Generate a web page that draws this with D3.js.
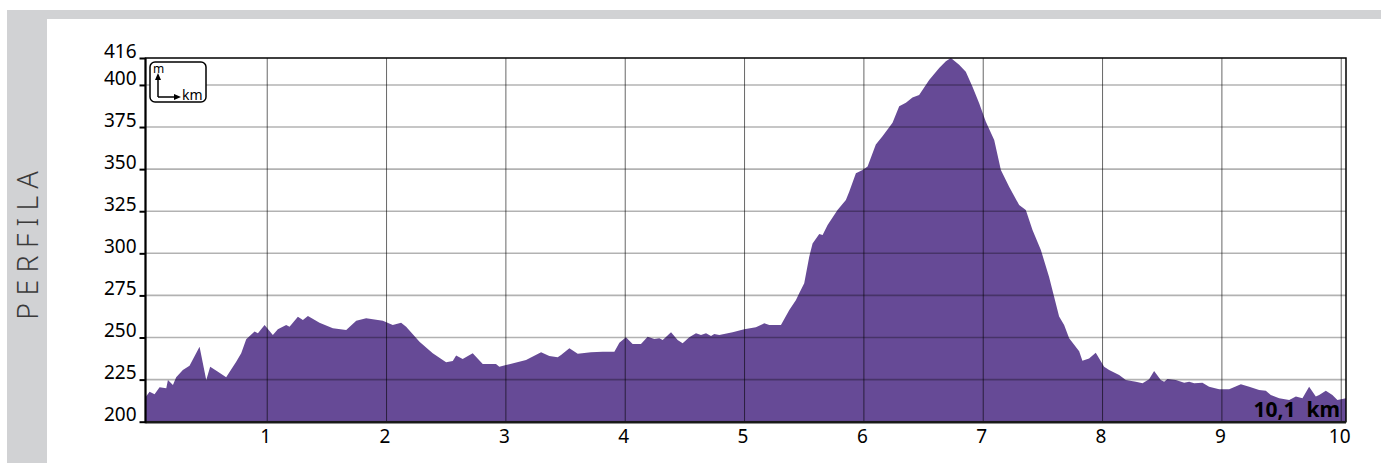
<!DOCTYPE html>
<html>
<head>
<meta charset="utf-8">
<script src="https://cdn.jsdelivr.net/npm/d3@7"></script>
<style>
	body { margin: 0; background: #fff; }
	svg { display: block; font-family: 'Noto Sans', sans-serif; }
</style>
</head>
<body>
<div id="chart"></div>
<script>
// elevation profile (km, m)
const distanceKm = [-0.02, 0.014, 0.056, 0.098, 0.154, 0.168, 0.210, 0.237, 0.293, 0.349, 0.433, 0.489, 0.522, 0.587, 0.656, 0.740, 0.782, 0.824, 0.894, 0.922, 0.978, 1.047, 1.089, 1.159, 1.187, 1.257, 1.299, 1.341, 1.438, 1.550, 1.662, 1.746, 1.829, 1.969, 2.052, 2.122, 2.164, 2.276, 2.387, 2.499, 2.555, 2.583, 2.638, 2.722, 2.806, 2.917, 2.945, 3.001, 3.029, 3.169, 3.295, 3.364, 3.434, 3.462, 3.532, 3.602, 3.713, 3.811, 3.909, 3.951, 4.006, 4.062, 4.132, 4.188, 4.244, 4.286, 4.314, 4.384, 4.439, 4.481, 4.537, 4.593, 4.635, 4.677, 4.719, 4.746, 4.788, 4.900, 4.997, 5.095, 5.165, 5.207, 5.305, 5.375, 5.431, 5.458, 5.500, 5.542, 5.570, 5.626, 5.654, 5.696, 5.779, 5.849, 5.877, 5.933, 5.989, 6.031, 6.100, 6.156, 6.240, 6.296, 6.352, 6.407, 6.463, 6.547, 6.631, 6.687, 6.729, 6.798, 6.854, 6.910, 6.966, 7.022, 7.092, 7.148, 7.217, 7.301, 7.357, 7.413, 7.483, 7.552, 7.636, 7.678, 7.720, 7.804, 7.831, 7.887, 7.943, 8.013, 8.055, 8.139, 8.195, 8.279, 8.335, 8.390, 8.432, 8.488, 8.516, 8.544, 8.614, 8.684, 8.726, 8.768, 8.837, 8.893, 8.977, 9.061, 9.159, 9.229, 9.312, 9.368, 9.410, 9.480, 9.564, 9.620, 9.675, 9.731, 9.787, 9.815, 9.871, 9.926, 9.968, 10.04];

const elevationM = [214.5, 217.8, 216.3, 220.4, 219.8, 224.8, 221.8, 226.4, 230.7, 233.3, 244.5, 224.8, 232.7, 229.7, 226.4, 235.6, 240.6, 248.9, 253.5, 252.5, 257.4, 251.5, 254.9, 257.4, 256.4, 262.4, 260.4, 262.8, 258.8, 255.5, 254.5, 260, 261.4, 260, 257.4, 258.8, 256.4, 247.5, 240.6, 235.3, 236.1, 239.3, 237.3, 240.6, 234.3, 234.3, 232.7, 233.7, 234.1, 236.6, 241.2, 239, 238.3, 239.6, 243.6, 240.3, 241.2, 241.6, 241.6, 246.9, 250.1, 246.2, 246.2, 250.5, 249.1, 249.5, 248.5, 253.1, 248.5, 246.6, 250.1, 252.5, 251.5, 252.5, 250.9, 252.1, 251.5, 253.1, 254.9, 256.1, 258.4, 257.4, 257.4, 266.3, 272.3, 276.3, 282.2, 298, 305.9, 311.5, 310.9, 316.8, 325.7, 331.6, 336.6, 347.5, 349.5, 351.5, 364.6, 369.5, 377.5, 387.4, 389.4, 392.6, 394.1, 403, 410, 414, 416, 412, 407.9, 399, 389.1, 378.2, 367.3, 349.5, 339.6, 328.7, 325.8, 313.9, 302, 285.9, 262.5, 257.4, 249.5, 241.8, 236.2, 237.6, 241, 232.7, 230.7, 227.7, 224.8, 223.8, 222.8, 225.2, 230.1, 224.8, 223.8, 225.4, 224.8, 223.2, 223.8, 222.8, 223.2, 220.8, 219.2, 219.2, 222.2, 220.8, 218.8, 218.4, 215.9, 213.9, 212.9, 214.9, 213.9, 220.8, 214.9, 215.9, 218.4, 215.9, 212.9, 213.9];

const xTicks = [1, 2, 3, 4, 5, 6, 7, 8, 9, 10];
const yTicks = [200, 225, 250, 275, 300, 325, 350, 375, 400, 416];
const totalLabel = '10,1  km';
const sideLabel = 'PERFILA';

const width = 1381, height = 463;
const fillColor = '#664a96';

const svg = d3.select('#chart').append('svg')
	.attr('width', width)
	.attr('height', height);

// page frame: grey band on top and left
svg.append('rect').attr('x', 7).attr('y', 10).attr('width', width - 7).attr('height', height - 10).attr('fill', '#d1d2d4');
svg.append('rect').attr('x', 47).attr('y', 19).attr('width', width - 47).attr('height', height - 19).attr('fill', '#fff');

svg.append('text')
	.attr('transform', 'translate(38, 242) rotate(-90)')
	.attr('text-anchor', 'middle')
	.attr('font-size', 29)
	.attr('font-weight', 300)
	.attr('letter-spacing', 7)
	.attr('fill', '#3a3a3a')
	.text(sideLabel);

// scales
const x = d3.scaleLinear().domain([-0.02, 10.04]).range([145.5, 1346]);
const y = d3.scaleLinear().domain([200, 416]).range([421.7, 58]);

const data = d3.zip(distanceKm, elevationM);

const area = d3.area()
	.x(d => x(d[0]))
	.y0(y(200))
	.y1(d => y(d[1]));

svg.append('path')
	.datum(data)
	.attr('fill', fillColor)
	.attr('d', area);

// grid drawn over the fill
svg.append('g')
	.selectAll('line')
	.data(yTicks.filter(v => v > 200 && v < 416))
	.join('line')
	.attr('x1', x.range()[0]).attr('x2', x.range()[1])
	.attr('y1', d => y(d)).attr('y2', d => y(d))
	.attr('stroke', 'rgba(0,0,0,0.3)')
	.attr('stroke-width', 1.6);

svg.append('g')
	.selectAll('line')
	.data(xTicks)
	.join('line')
	.attr('x1', d => x(d)).attr('x2', d => x(d))
	.attr('y1', y(416)).attr('y2', y(200))
	.attr('stroke', 'rgba(0,0,0,0.6)')
	.attr('stroke-width', 1);

// axes
const yAxis = d3.axisLeft(y)
	.tickValues(yTicks)
	.tickSize(6)
	.tickPadding(3);

svg.append('g')
	.attr('class', 'y axis')
	.attr('transform', `translate(${x.range()[0]}, 0)`)
	.call(yAxis)
	.call(g => g.select('.domain').remove())
	.call(g => g.selectAll('.tick line').attr('stroke', '#000').attr('stroke-width', 2))
	.call(g => g.selectAll('.tick text')
		.attr('dy', '-0.05em')
		.attr('font-size', 19)
		.attr('font-family', "'Noto Sans', sans-serif")
		.attr('fill', '#000'));

const xAxis = d3.axisBottom(x)
	.tickValues(xTicks)
	.tickSize(0)
	.tickPadding(8);

svg.append('g')
	.attr('class', 'x axis')
	.attr('transform', `translate(-2, ${y(200)})`)
	.call(xAxis)
	.call(g => g.select('.domain').remove())
	.call(g => g.selectAll('.tick text')
		.attr('font-size', 19)
		.attr('font-family', "'Noto Sans', sans-serif")
		.attr('fill', '#000'));

// plot frame
svg.append('rect')
	.attr('x', x.range()[0]).attr('y', y(416))
	.attr('width', x.range()[1] - x.range()[0])
	.attr('height', y(200) - y(416))
	.attr('fill', 'none')
	.attr('stroke', '#000')
	.attr('stroke-width', 1.5);

svg.append('line')
	.attr('x1', x.range()[0]).attr('x2', x.range()[1])
	.attr('y1', y(200) + 0.5).attr('y2', y(200) + 0.5)
	.attr('stroke', '#1a1a1a').attr('stroke-width', 2.5);

svg.append('line')
	.attr('x1', x.range()[0]).attr('x2', x.range()[0])
	.attr('y1', y(416)).attr('y2', y(200) + 1.5)
	.attr('stroke', '#000').attr('stroke-width', 2);

// total distance
svg.append('text')
	.attr('x', x.range()[1] - 6)
	.attr('y', y(200) - 5)
	.attr('text-anchor', 'end')
	.attr('font-size', 21)
	.attr('font-weight', 'bold')
	.style('white-space', 'pre')
	.attr('fill', '#000')
	.text(totalLabel);

// m / km legend box
const legend = svg.append('g').attr('transform', 'translate(150, 62)');

legend.append('rect')
	.attr('width', 56).attr('height', 40)
	.attr('rx', 5)
	.attr('fill', '#fff')
	.attr('stroke', '#000')
	.attr('stroke-width', 1.5);

legend.append('text')
	.attr('x', 3).attr('y', 11)
	.attr('font-size', 12)
	.text('m');

legend.append('path')
	.attr('d', 'M 8 35 V 14 M 8 35 H 27')
	.attr('fill', 'none')
	.attr('stroke', '#000')
	.attr('stroke-width', 1.5);

legend.append('path')
	.attr('d', 'M 8 11 L 5 18 L 11 18 Z M 31 35 L 24 32 L 24 38 Z')
	.attr('fill', '#000');

legend.append('text')
	.attr('x', 32).attr('y', 38)
	.attr('font-size', 14)
	.text('km');
</script>
</body>
</html>
